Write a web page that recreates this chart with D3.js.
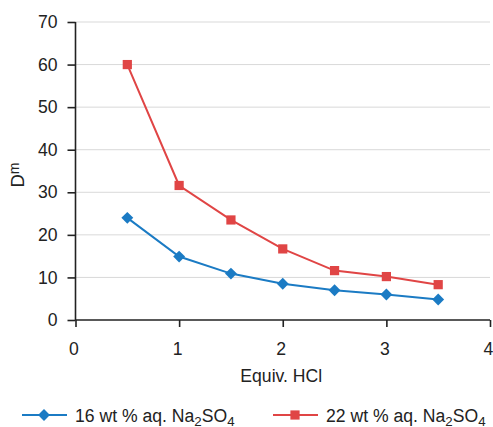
<!DOCTYPE html>
<html>
<head>
<meta charset="utf-8">
<script src="https://cdn.jsdelivr.net/npm/d3@7"></script>
<style>
  html, body { margin: 0; padding: 0; background: #fff; }
  svg { display: block; font-family: "Liberation Sans", Arial, sans-serif; }
</style>
</head>
<body>
<svg id="chart" width="493" height="427"></svg>
<script>
// Equivalents of HCl added
const equivHCl = [0.5, 1, 1.5, 2, 2.5, 3, 3.5];
// Distribution ratio D_m for each brine concentration
const dm16 = [24.0, 14.9, 10.9, 8.5, 7.0, 6.0, 4.8];
const dm22 = [60.0, 31.6, 23.5, 16.7, 11.6, 10.2, 8.3];
const seriesNames = ["16 wt % aq. Na", "22 wt % aq. Na"];
const xTicks = [0, 1, 2, 3, 4];
const yTicks = [0, 10, 20, 30, 40, 50, 60, 70];

const blue = "#1b7bc4";
const red = "#e04545";
const ink = "#222";
const fs = 17.6;
const fsSub = 13.3;

const svg = d3.select("#chart");
const m = { left: 75.5, right: 3, top: 22, bottom: 107 };
const W = 493, H = 427;

const x = d3.scaleLinear().domain([0, 4]).range([m.left, W - m.right]);
const y = d3.scaleLinear().domain([0, 70]).range([H - m.bottom, m.top]);

// horizontal gridlines
svg.append("g")
  .selectAll("line")
  .data(yTicks.filter(d => d > 0))
  .join("line")
  .attr("x1", x(0)).attr("x2", x(4))
  .attr("y1", d => y(d)).attr("y2", d => y(d))
  .attr("stroke", "#d9d9d9").attr("stroke-width", 1);

// y axis
const yAxis = svg.append("g")
  .attr("transform", `translate(${x(0)},0)`)
  .call(d3.axisLeft(y).tickValues(yTicks).tickFormat(d3.format("d"))
    .tickSize(8).tickPadding(10));
// x axis
const xAxis = svg.append("g")
  .attr("transform", `translate(0,${y(0)})`)
  .call(d3.axisBottom(x).tickValues(xTicks).tickFormat(d3.format("d"))
    .tickSize(7).tickPadding(16));

[yAxis, xAxis].forEach(a => {
  a.attr("font-size", fs).attr("font-family", "'Liberation Sans', Arial, sans-serif");
  a.select(".domain").attr("stroke", ink).attr("stroke-width", 1.6);
  a.selectAll(".tick line").attr("stroke", ink).attr("stroke-width", 1.6);
  a.selectAll(".tick text").attr("fill", ink);
});
xAxis.selectAll(".tick text").attr("dx", -2);
// axis lines without outer tick caps
yAxis.select(".domain").attr("d", `M0,${y(70)}V${y(0)}`);
xAxis.select(".domain").attr("d", `M${x(0)},0H${x(4)}`);

// axis titles
svg.append("text")
  .attr("x", (x(0) + x(4)) / 2 - 1.5).attr("y", 382)
  .attr("text-anchor", "middle").attr("font-size", fs).attr("fill", ink)
  .text("Equiv. HCl");

const yt = svg.append("text")
  .attr("transform", `translate(24,175) rotate(-90)`)
  .attr("text-anchor", "middle").attr("font-size", 18.5).attr("fill", ink);
yt.append("tspan").text("D");
yt.append("tspan").attr("font-size", 14).attr("dy", -5).text("m");

const line = d3.line().x(d => x(d[0])).y(d => y(d[1]));
const diamond = d3.symbol().type(d3.symbolDiamond2).size(90);
const square = d3.symbol().type(d3.symbolSquare).size(85);

function drawSeries(vals, color, sym) {
  const pts = equivHCl.map((e, i) => [e, vals[i]]);
  svg.append("path").datum(pts)
    .attr("d", line).attr("fill", "none")
    .attr("stroke", color).attr("stroke-width", 2);
  svg.append("g").selectAll("path").data(pts).join("path")
    .attr("transform", d => `translate(${x(d[0])},${y(d[1])})`)
    .attr("d", sym).attr("fill", color);
}
drawSeries(dm22, red, square);
drawSeries(dm16, blue, diamond);

// legend
const legendY = 415;
const legend = [
  { name: seriesNames[0], color: blue, sym: diamond, x0: 22 },
  { name: seriesNames[1], color: red, sym: square, x0: 273 }
];
legend.forEach(l => {
  const g = svg.append("g");
  g.append("line").attr("x1", l.x0).attr("x2", l.x0 + 45)
    .attr("y1", legendY).attr("y2", legendY)
    .attr("stroke", l.color).attr("stroke-width", 2);
  g.append("path").attr("transform", `translate(${l.x0 + 22},${legendY})`)
    .attr("d", l.sym).attr("fill", l.color);
  const t = g.append("text").attr("x", l.x0 + 53).attr("y", legendY + 6.5)
    .attr("font-size", fs).attr("fill", ink);
  t.append("tspan").text(l.name);
  t.append("tspan").attr("font-size", fsSub).attr("dy", 4).text("2");
  t.append("tspan").attr("dy", -4).text("SO");
  t.append("tspan").attr("font-size", fsSub).attr("dy", 4).text("4");
});
</script>
</body>
</html>
